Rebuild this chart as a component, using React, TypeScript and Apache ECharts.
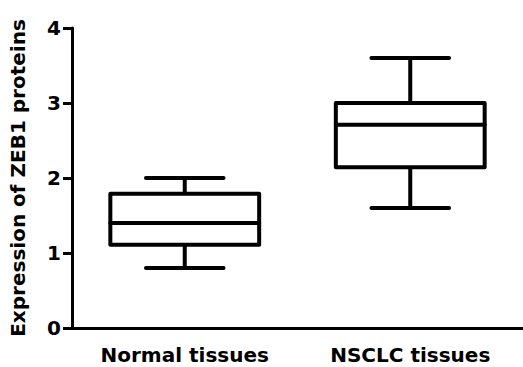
import React, { useEffect, useRef } from "react";
import * as echarts from "echarts";

const categories = ["Normal tissues", "NSCLC tissues"];
const whiskerLow = [0.8, 1.6];
const q1 = [1.11, 2.145];
const median = [1.4, 2.71];
const q3 = [1.79, 3.0];
const whiskerHigh = [2.0, 3.6];
const yTicks = [0, 1, 2, 3, 4];

const FONT = "DejaVu Sans";

export default function App() {
  const ref = useRef<HTMLDivElement>(null);
  useEffect(() => {
    if (!ref.current) return;
    const chart = echarts.init(ref.current, null, { renderer: "svg" });
    const data = categories.map((_, i) => [i, whiskerLow[i], q1[i], median[i], q3[i], whiskerHigh[i]]);
    const lineStyle = { stroke: "#000", lineWidth: 4, lineCap: "round" as const };
    chart.setOption({
      animation: false,
      backgroundColor: "#fff",
      grid: { left: 72, right: -4, top: 28, bottom: 39, containLabel: false },
      xAxis: {
        type: "category",
        data: categories,
        boundaryGap: true,
        axisLine: { lineStyle: { color: "#000", width: 3 } },
        axisTick: { alignWithLabel: true, length: 7, lineStyle: { color: "#000", width: 3 } },
        axisLabel: { color: "#000", fontFamily: FONT, fontWeight: "bold", fontSize: 20, margin: 17 },
      },
      yAxis: {
        type: "value",
        min: yTicks[0],
        max: yTicks[yTicks.length - 1],
        interval: 1,
        name: "Expression of ZEB1 proteins",
        nameLocation: "middle",
        nameRotate: 90,
        nameGap: 44,
        nameTextStyle: { color: "#000", fontFamily: FONT, fontWeight: "bold", fontSize: 20 },
        axisLine: { show: true, lineStyle: { color: "#000", width: 3 } },
        axisTick: { show: true, length: 9, lineStyle: { color: "#000", width: 3 } },
        axisLabel: { color: "#000", fontFamily: FONT, fontWeight: "bold", fontSize: 20, margin: 11 },
        splitLine: { show: false },
      },
      series: [
        {
          type: "custom",
          data,
          encode: { x: 0, y: [1, 2, 3, 4, 5] },
          renderItem: (params: any, api: any) => {
            const idx = api.value(0);
            const band = api.size([1, 0])[0];
            const boxHalf = band * 0.33;
            const capHalf = band * 0.172;
            const lo = api.coord([idx, api.value(1)]);
            const a = api.coord([idx, api.value(2)]);
            const m = api.coord([idx, api.value(3)]);
            const b = api.coord([idx, api.value(4)]);
            const hi = api.coord([idx, api.value(5)]);
            const cx = lo[0];
            return {
              type: "group",
              children: [
                { type: "line", shape: { x1: cx, y1: hi[1], x2: cx, y2: b[1] }, style: lineStyle },
                { type: "line", shape: { x1: cx, y1: a[1], x2: cx, y2: lo[1] }, style: lineStyle },
                { type: "line", shape: { x1: cx - capHalf, y1: hi[1], x2: cx + capHalf, y2: hi[1] }, style: lineStyle },
                { type: "line", shape: { x1: cx - capHalf, y1: lo[1], x2: cx + capHalf, y2: lo[1] }, style: lineStyle },
                {
                  type: "rect",
                  shape: { x: cx - boxHalf, y: b[1], width: boxHalf * 2, height: a[1] - b[1] },
                  style: { fill: "#fff", stroke: "#000", lineWidth: 4, lineJoin: "round" },
                },
                { type: "line", shape: { x1: cx - boxHalf, y1: m[1], x2: cx + boxHalf, y2: m[1] }, style: lineStyle },
              ],
            };
          },
        },
      ],
    });
    return () => chart.dispose();
  }, []);
  return <div ref={ref} style={{ width: 523, height: 367, position: "absolute", left: 0, top: 0 }} />;
}
